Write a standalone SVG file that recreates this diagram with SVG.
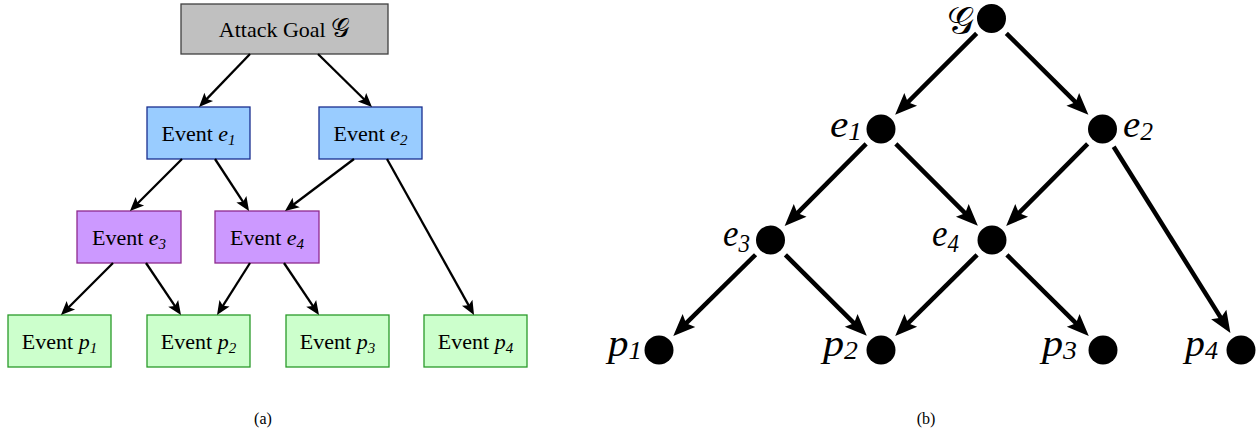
<svg xmlns="http://www.w3.org/2000/svg" width="1258" height="436" viewBox="0 0 1258 436">
<style>
.box{stroke-width:1.3}
.goal{fill:#c0c0c0;stroke:#404040}
.blue{fill:#99ccff;stroke:#1a2f8f}
.purple{fill:#cc99ff;stroke:#8e2a8e}
.green{fill:#ccffcc;stroke:#2a9a2a}
.lt{font-family:"Liberation Serif","Times New Roman",serif;font-size:22px;fill:#000;text-anchor:middle}
.it{font-style:italic}
.sub{font-size:15px;font-style:italic}
.cal{font-family:"DejaVu Serif","Noto Sans",serif;font-style:normal;font-size:26px}
.lc{stroke:#000;stroke-width:2.3;fill:none;marker-end:url(#ah)}
.rc{stroke:#000;stroke-width:4.5;fill:none;marker-end:url(#bh)}
.dot{fill:#000}
.rl{font-family:"Liberation Serif","Times New Roman",serif;font-size:38px;font-style:italic;fill:#000}
.rs{font-size:25px}
.rg{font-family:"DejaVu Serif","Noto Sans",serif;font-size:38px;font-style:normal;fill:#000;text-anchor:end}
.cap{font-family:"Liberation Serif","Times New Roman",serif;font-size:16px;fill:#000;text-anchor:middle}
</style>
<defs>
<marker id="ah" markerUnits="userSpaceOnUse" markerWidth="16" markerHeight="14" refX="9" refY="6" orient="auto" overflow="visible">
<path d="M0,0 L14,6 L0,12 L3,6 z" fill="#000"/>
</marker>
<marker id="bh" markerUnits="userSpaceOnUse" markerWidth="24" markerHeight="20" refX="12" refY="9" orient="auto" overflow="visible">
<path d="M0,0 L22,9 L0,18 L4,9 z" fill="#000"/>
</marker>
</defs>

<!-- (a) boxes -->
<g id="goal"><rect class="box goal" x="181" y="4" width="207" height="50"/><text class="lt" x="284.5" y="37">Attack Goal <tspan class="cal">𝒢</tspan></text></g>
<g id="a_e1"><rect class="box blue" x="147" y="107" width="103" height="52"/><text class="lt" x="198.5" y="141">Event <tspan class="it">e</tspan><tspan class="sub" dy="4">1</tspan></text></g>
<g id="a_e2"><rect class="box blue" x="319" y="107" width="103" height="52"/><text class="lt" x="370.5" y="141">Event <tspan class="it">e</tspan><tspan class="sub" dy="4">2</tspan></text></g>
<g id="a_e3"><rect class="box purple" x="77" y="211" width="104" height="52"/><text class="lt" x="129" y="245">Event <tspan class="it">e</tspan><tspan class="sub" dy="4">3</tspan></text></g>
<g id="a_e4"><rect class="box purple" x="215" y="211" width="104" height="52"/><text class="lt" x="267" y="245">Event <tspan class="it">e</tspan><tspan class="sub" dy="4">4</tspan></text></g>
<g id="a_p1"><rect class="box green" x="8" y="315" width="103" height="52"/><text class="lt" x="59.5" y="349">Event <tspan class="it">p</tspan><tspan class="sub" dy="4">1</tspan></text></g>
<g id="a_p2"><rect class="box green" x="147" y="315" width="103" height="52"/><text class="lt" x="198.5" y="349">Event <tspan class="it">p</tspan><tspan class="sub" dy="4">2</tspan></text></g>
<g id="a_p3"><rect class="box green" x="286" y="315" width="103" height="52"/><text class="lt" x="337.5" y="349">Event <tspan class="it">p</tspan><tspan class="sub" dy="4">3</tspan></text></g>
<g id="a_p4"><rect class="box green" x="424" y="315" width="103" height="52"/><text class="lt" x="475.5" y="349">Event <tspan class="it">p</tspan><tspan class="sub" dy="4">4</tspan></text></g>

<g id="a_connectors">
<line class="lc" x1="250" y1="54" x2="202.5" y2="103.4"/>
<line class="lc" x1="318" y1="54" x2="368.4" y2="103.5"/>
<line class="lc" x1="182" y1="159" x2="133.5" y2="207.5"/>
<line class="lc" x1="215" y1="159" x2="246.3" y2="206.8"/>
<line class="lc" x1="354" y1="159" x2="289" y2="208"/>
<line class="lc" x1="387" y1="159" x2="471.6" y2="310.6"/>
<line class="lc" x1="113" y1="263" x2="64.5" y2="311.5"/>
<line class="lc" x1="146" y1="263" x2="178.2" y2="310.9"/>
<line class="lc" x1="250" y1="263" x2="219.7" y2="310.8"/>
<line class="lc" x1="284" y1="263" x2="316.2" y2="310.9"/>
</g>

<!-- (b) nodes -->
<g id="b_G"><circle class="dot" cx="991.5" cy="18.5" r="14.5"/><text class="rg" x="974" y="34">𝒢</text></g>
<g id="b_e1"><circle class="dot" cx="881" cy="129" r="14.5"/><text class="rl" x="830" y="137" textLength="32" lengthAdjust="spacingAndGlyphs">e<tspan class="rs" dy="3">1</tspan></text></g>
<g id="b_e2"><circle class="dot" cx="1102.5" cy="129" r="14.5"/><text class="rl" x="1123" y="137" textLength="30" lengthAdjust="spacingAndGlyphs">e<tspan class="rs" dy="3">2</tspan></text></g>
<g id="b_e3"><circle class="dot" cx="770.5" cy="240" r="14.5"/><text class="rl" x="723" y="246" textLength="27" lengthAdjust="spacingAndGlyphs">e<tspan class="rs" dy="6">3</tspan></text></g>
<g id="b_e4"><circle class="dot" cx="992" cy="240" r="14.5"/><text class="rl" x="932" y="246" textLength="27" lengthAdjust="spacingAndGlyphs">e<tspan class="rs" dy="6">4</tspan></text></g>
<g id="b_p1"><circle class="dot" cx="659" cy="350" r="14.5"/><text class="rl" x="608" y="356" textLength="34" lengthAdjust="spacingAndGlyphs">p<tspan class="rs" dy="3">1</tspan></text></g>
<g id="b_p2"><circle class="dot" cx="881" cy="350" r="14.5"/><text class="rl" x="823" y="356" textLength="35" lengthAdjust="spacingAndGlyphs">p<tspan class="rs" dy="3">2</tspan></text></g>
<g id="b_p3"><circle class="dot" cx="1103" cy="350" r="14.5"/><text class="rl" x="1042" y="356" textLength="35" lengthAdjust="spacingAndGlyphs">p<tspan class="rs" dy="3">3</tspan></text></g>
<g id="b_p4"><circle class="dot" cx="1241" cy="350" r="14.5"/><text class="rl" x="1185" y="356" textLength="33" lengthAdjust="spacingAndGlyphs">p<tspan class="rs" dy="3">4</tspan></text></g>

<g id="b_connectors">
<line class="rc" x1="976.65" y1="33.35" x2="902.2" y2="107.8"/>
<line class="rc" x1="1006.35" y1="33.35" x2="1081.3" y2="107.8"/>
<line class="rc" x1="866.15" y1="143.85" x2="791.7" y2="218.8"/>
<line class="rc" x1="895.85" y1="143.85" x2="970.8" y2="218.8"/>
<line class="rc" x1="1087.65" y1="143.85" x2="1013.2" y2="218.8"/>
<line class="rc" x1="1113.65" y1="146.8" x2="1225.1" y2="324.6"/>
<line class="rc" x1="755.55" y1="254.75" x2="680.4" y2="328.9"/>
<line class="rc" x1="785.4" y1="254.8" x2="859.7" y2="328.8"/>
<line class="rc" x1="977.1" y1="254.8" x2="902.3" y2="328.9"/>
<line class="rc" x1="1006.9" y1="254.8" x2="1081.7" y2="328.9"/>
</g>

<text class="cap" x="263" y="424">(a)</text>
<text class="cap" x="926" y="424">(b)</text>
</svg>
